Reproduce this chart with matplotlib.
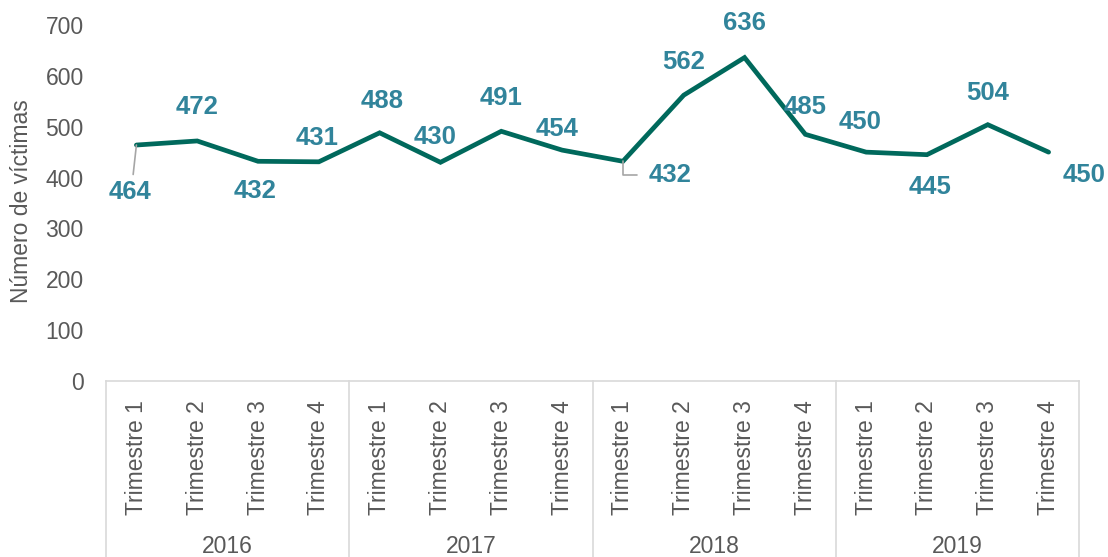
import matplotlib.pyplot as plt
import matplotlib.transforms as mtransforms

plt.rcParams['font.family'] = ['Liberation Sans', 'DejaVu Sans']

years = ['2016', '2017', '2018', '2019']
quarters = ['Trimestre 1', 'Trimestre 2', 'Trimestre 3', 'Trimestre 4']
victims = [464, 472, 432, 431, 488, 430, 491, 454,
           432, 562, 636, 485, 450, 445, 504, 450]

# label offsets (pixels) relative to each point
offsets = [(-6, -47), (0, 34), (-3, -30), (-2, 24), (2, 32), (-5, 25), (0, 33), (-5, 21),
           (47, -14), (0, 33), (0, 35), (0, 27), (-6, 30), (3, -32), (0, 32), (35, -23)]

line_color = '#00695C'
label_color = '#31849B'
text_gray = '#595959'
rule_gray = '#D9D9D9'
leader_gray = '#A6A6A6'

fig = plt.figure(figsize=(11.08, 5.57), dpi=100)
ax = fig.add_axes([106 / 1108, (557 - 381) / 557, (1079 - 106) / 1108, (381 - 25) / 557])

x = list(range(len(victims)))
ax.plot(x, victims, color=line_color, lw=3.4, solid_joinstyle='miter', solid_capstyle='round')

ax.set_xlim(-0.5, len(victims) - 0.5)
ax.set_ylim(0, 700)
ax.set_yticks(range(0, 701, 100))
ax.tick_params(axis='y', length=0, labelsize=16.5, labelcolor=text_gray, pad=16)
fig.text(22 / 1108, (557 - 201) / 557, 'Número de víctimas', rotation=90,
         ha='center', va='center', fontsize=16.5, color=text_gray)

for s in ['top', 'right', 'left']:
    ax.spines[s].set_visible(False)
ax.spines['bottom'].set_color(rule_gray)
ax.spines['bottom'].set_linewidth(1.2)

# quarter labels
ax.set_xticks(x)
ax.set_xticklabels(quarters * len(years), rotation=90, fontsize=16.5, color=text_gray)
ax.tick_params(axis='x', length=0, pad=14)

# year labels and group separators
trans = mtransforms.blended_transform_factory(ax.transData, ax.transAxes)
for i, yr in enumerate(years):
    ax.text(i * 4 + 1.5, -0.465, yr, transform=trans, ha='center', va='center',
            fontsize=16.5, color=text_gray)
for b in range(len(years) + 1):
    ax.plot([b * 4 - 0.5, b * 4 - 0.5], [0, -0.6], transform=trans, color=rule_gray,
            lw=1.2, clip_on=False)

# data labels
for i, (v, (dx, dy)) in enumerate(zip(victims, offsets)):
    kw = {}
    if i == 0:
        kw['arrowprops'] = dict(arrowstyle='-', color=leader_gray, lw=1.2,
                                shrinkA=2, shrinkB=0, relpos=(0.55, 1.0))
    elif i == 8:
        kw['arrowprops'] = dict(arrowstyle='-', color=leader_gray, lw=1.2,
                                shrinkA=6, shrinkB=0, relpos=(0.0, 0.5),
                                connectionstyle='angle,angleA=0,angleB=90,rad=0')
    ax.annotate(str(v), (i, v), xytext=(dx, dy), textcoords='offset pixels',
                ha='center', va='center', fontsize=18.5, fontweight='bold',
                color=label_color, **kw)

fig.savefig('out.png', dpi=100)
